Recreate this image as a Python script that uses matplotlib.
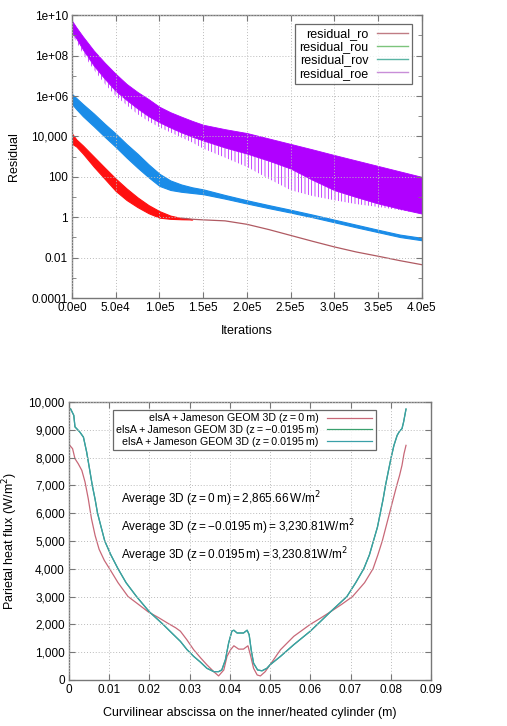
import numpy as np
import matplotlib.pyplot as plt
from matplotlib.lines import Line2D
from matplotlib.ticker import FixedLocator, FuncFormatter

plt.rcParams['font.family'] = ['Liberation Sans', 'DejaVu Sans']
plt.rcParams['hatch.linewidth'] = 0.5

# ---- residual history (log10 of residual, band envelopes) ----
iters = [0, 5e3, 1.25e4, 2.5e4, 3.75e4, 5e4, 6.25e4, 7.5e4, 8.75e4, 1e5,
         1.125e5, 1.25e5, 1.375e5, 1.5e5, 1.75e5, 2e5, 2.25e5, 2.5e5, 2.75e5,
         3e5, 3.25e5, 3.5e5, 3.75e5, 4e5]
ro_hi = [4.14, 3.85, 3.55, 3.0, 2.45, 1.91, 1.42, 0.98, 0.6, 0.3, 0.08, -0.04,
         -0.1, -0.13, -0.18, -0.35, -0.61, -0.9, -1.19, -1.47, -1.72, -1.93,
         -2.15, -2.35]
ro_lo = [3.64, 3.5, 3.15, 2.5, 1.9, 1.3, 0.85, 0.5, 0.2, -0.02, -0.08, -0.1,
         -0.11, -0.13, -0.18, -0.35, -0.61, -0.9, -1.19, -1.47, -1.72, -1.93,
         -2.15, -2.35]
rou_hi = [6.1, 5.9, 5.6, 5.13, 4.62, 4.14, 3.62, 3.14, 2.62, 2.15, 1.82, 1.62,
          1.48, 1.38, 1.1, 0.84, 0.6, 0.37, 0.13, -0.12, -0.37, -0.62, -0.86,
          -1.02]
rou_lo = [5.6, 5.35, 5.0, 4.5, 3.98, 3.48, 2.95, 2.45, 1.98, 1.55, 1.35, 1.26,
          1.2, 1.14, 0.92, 0.68, 0.45, 0.23, 0.0, -0.25, -0.5, -0.74, -0.98,
          -1.14]
roe_hi = [9.73, 9.4, 8.95, 8.25, 7.65, 7.1, 6.6, 6.2, 5.85, 5.47, 5.2, 4.98,
          4.77, 4.58, 4.36, 4.17, 3.9, 3.63, 3.36, 3.08, 2.81, 2.54, 2.27, 2.0]
roe_lo = [9.15, 8.85, 8.3, 7.5, 6.85, 6.25, 5.8, 5.38, 5.0, 4.7, 4.44, 4.2,
          3.99, 3.8, 3.45, 3.15, 2.8, 2.41, 1.85, 1.34, 1.0, 0.68, 0.42, 0.18]
roe_spike = [9.0, 8.7, 8.1, 7.3, 6.6, 6.0, 5.55, 5.1, 4.75, 4.45, 4.2, 3.95,
             3.7, 3.4, 2.95, 2.49, 1.9, 1.34, 1.05, 0.84, 0.65, 0.51, 0.35, 0.18]

res_ticks = [1e-4, 1e-2, 1, 1e2, 1e4, 1e6, 1e8, 1e10]
res_labels = ['0.0001', '0.01', '1', '100', '10,000', '1e+06', '1e+08', '1e+10']
it_ticks = [0, 5e4, 1e5, 1.5e5, 2e5, 2.5e5, 3e5, 3.5e5, 4e5]
it_labels = ['0.0e0', '5.0e4', '1.0e5', '1.5e5', '2.0e5', '2.5e5', '3.0e5', '3.5e5', '4.0e5']

# ---- parietal heat flux ----
z0_x = [0.0002, 0.0009, 0.0015, 0.0023, 0.0032, 0.004, 0.0048, 0.0056, 0.0065,
        0.0075, 0.0088, 0.0101, 0.0122, 0.0147, 0.017, 0.0197, 0.0222, 0.0247,
        0.0265, 0.0277, 0.0293, 0.031, 0.0327, 0.0343, 0.036, 0.0372, 0.0385,
        0.0393, 0.0402, 0.041, 0.0422, 0.0434, 0.0445, 0.0452, 0.0459, 0.0468,
        0.0476, 0.0488, 0.05, 0.0526, 0.0559, 0.06, 0.0625, 0.065, 0.0678,
        0.0705, 0.0735, 0.0756, 0.0768, 0.0779, 0.0788, 0.0797, 0.0806, 0.0815,
        0.0822, 0.0828, 0.0833, 0.0838]
z0_y = [8440, 8320, 7960, 7780, 7540, 7120, 6520, 5800, 5200, 4700, 4300, 4000,
        3500, 3000, 2750, 2450, 2250, 2030, 1880, 1755, 1450, 1090, 800, 545,
        300, 145, 360, 850, 1090, 1230, 1110, 1110, 1230, 850, 420, 180, 145,
        300, 545, 1090, 1570, 2000, 2220, 2450, 2720, 3000, 3500, 4000, 4500,
        5000, 5500, 6000, 6500, 7000, 7360, 7720, 8140, 8440]
zm_x = [0.0004, 0.0012, 0.0015, 0.0027, 0.0036, 0.0044, 0.0051, 0.0058, 0.0065,
        0.0071, 0.008, 0.0089, 0.0104, 0.0122, 0.0142, 0.0168, 0.02, 0.0234,
        0.0255, 0.0277, 0.0293, 0.031, 0.0327, 0.0343, 0.036, 0.0372, 0.038,
        0.0389, 0.0397, 0.0405, 0.041, 0.0418, 0.0434, 0.0443, 0.0448, 0.0453,
        0.0459, 0.0469, 0.048, 0.0492, 0.05, 0.0526, 0.0559, 0.06, 0.0625,
        0.065, 0.0691, 0.0713, 0.0733, 0.0747, 0.0757, 0.0767, 0.0774, 0.0781,
        0.0787, 0.0794, 0.0801, 0.0808, 0.0816, 0.0822, 0.0828, 0.0832, 0.0838]
zm_y = [9760, 9520, 9100, 8920, 8740, 8200, 7600, 7000, 6500, 6000, 5500, 5000,
        4500, 4000, 3500, 3000, 2450, 2000, 1700, 1390, 1100, 850, 640, 420,
        300, 300, 360, 725, 1330, 1755, 1790, 1690, 1690, 1790, 1630, 1090, 605,
        360, 330, 420, 545, 850, 1270, 1755, 2100, 2450, 3000, 3500, 4000, 4500,
        5000, 5500, 6000, 6500, 7000, 7500, 8000, 8440, 8800, 8950, 9040, 9280,
        9740]
zp_x = zm_x
zp_y = [9750, 9520, 9110, 8920, 8730, 8200, 7610, 7000, 6500, 6010, 5500, 5000,
        4510, 4000, 3500, 3000, 2450, 2000, 1700, 1390, 1100, 850, 640, 420,
        300, 300, 360, 730, 1330, 1760, 1790, 1690, 1690, 1790, 1630, 1090, 600,
        360, 330, 420, 545, 850, 1270, 1755, 2100, 2450, 3000, 3500, 4000, 4500,
        5000, 5500, 6000, 6500, 7000, 7510, 8000, 8440, 8800, 8950, 9040, 9280,
        9750]
averages = ['Average 3D (z\u2009=\u20090\u2009m)\u2009=\u20092,865.66\u2009W/m$^2$',
            'Average 3D (z\u2009=\u2009\u22120.0195\u2009m)\u2009=\u20093,230.81W/m$^2$',
            'Average 3D (z\u2009=\u20090.0195\u2009m)\u2009=\u20093,230.81W/m$^2$']

fig = plt.figure(figsize=(5.07, 7.26), dpi=100)
spine_col = '#777777'
grid_kw = dict(color='#bbbbbb', linestyle=(0, (1, 2)), linewidth=0.7)

# ---------- top: residuals ----------
ax1 = fig.add_axes([0.142, 0.5895, 0.690, 0.3895])
x = np.array(iters)
p = lambda v: 10 ** np.array(v)
ax1.fill_between(x, p(roe_spike), p(roe_lo), facecolor='none', edgecolor='#b000ff',
                 hatch='|||||', linewidth=0)
ax1.fill_between(x, p(roe_lo), p(roe_hi), color='#b000ff', linewidth=0.6,
                 edgecolor='#b000ff')
ax1.fill_between(x, p(rou_lo), p(rou_hi), color='#1a8ce8', linewidth=0.8,
                 edgecolor='#1a8ce8')
band = x <= 1.375e5
ax1.fill_between(x[band], p(ro_lo)[band], p(ro_hi)[band], color='#ff1010',
                 linewidth=0.8, edgecolor='#ff1010')
tail = x >= 1.25e5
ax1.plot(x[tail], p(np.array(ro_hi)[tail]), color='#b05a62', linewidth=0.9)
ax1.set_yscale('log')
ax1.set_ylim(1e-4, 1e10)
ax1.set_xlim(0, 4e5)
ax1.yaxis.set_major_locator(FixedLocator(res_ticks))
ax1.yaxis.set_major_formatter(FuncFormatter(lambda v, pos: res_labels[res_ticks.index(v)] if v in res_ticks else ''))
ax1.yaxis.set_minor_locator(FixedLocator([10.0 ** k for k in range(-3, 10, 2)]))
ax1.yaxis.set_minor_formatter(FuncFormatter(lambda v, pos: ''))
ax1.set_xticks(it_ticks)
ax1.set_xticklabels(it_labels)
ax1.grid(True, which='major', **grid_kw)
ax1.set_xlabel('Iterations', fontsize=9, labelpad=8)
ax1.set_ylabel('Residual', fontsize=9, labelpad=8)
handles = [Line2D([], [], color='#c07c84', lw=1.0),
           Line2D([], [], color='#7cc47c', lw=1.0),
           Line2D([], [], color='#5ab4a4', lw=1.0),
           Line2D([], [], color='#c88ed8', lw=1.0)]
leg = ax1.legend(handles, ['residual_ro', 'residual_rou', 'residual_rov', 'residual_roe'],
                 loc='upper right', bbox_to_anchor=(0.99, 0.99), markerfirst=False,
                 fontsize=9, frameon=True, fancybox=False, handlelength=2.5,
                 borderpad=0.3, labelspacing=0.1, handletextpad=0.7,
                 alignment='right')
leg.get_frame().set_edgecolor('#444444')
leg.get_frame().set_linewidth(0.9)
for t in leg.get_texts():
    t.set_ha('right')

# ---------- bottom: heat flux ----------
ax2 = fig.add_axes([0.136, 0.0634, 0.714, 0.3829])
ax2.plot(z0_x, z0_y, color='#c86878', linewidth=0.9, label='elsA\u2009+\u2009Jameson GEOM 3D (z\u2009=\u20090\u2009m)')
ax2.plot(zm_x, zm_y, color='#3aa06e', linewidth=0.9, label='elsA\u2009+\u2009Jameson GEOM 3D (z\u2009=\u2009\u22120.0195\u2009m)')
ax2.plot(zp_x, zp_y, color='#3aa0a8', linewidth=0.9, label='elsA\u2009+\u2009Jameson GEOM 3D (z\u2009=\u20090.0195\u2009m)')
ax2.set_xlim(0, 0.09)
ax2.set_ylim(0, 10000)
ax2.set_xticks(np.arange(0, 0.091, 0.01))
ax2.set_xticklabels(['0', '0.01', '0.02', '0.03', '0.04', '0.05', '0.06', '0.07', '0.08', '0.09'])
ax2.set_yticks(np.arange(0, 10001, 1000))
ax2.yaxis.set_major_formatter(FuncFormatter(lambda v, pos: f'{int(v):,}'))
ax2.grid(True, **grid_kw)
ax2.set_xlabel('Curvilinear abscissa on the inner/heated cylinder (m)', fontsize=9, labelpad=8)
ax2.set_ylabel('Parietal heat flux (W/m$^2$)', fontsize=9, labelpad=6)
leg2 = ax2.legend(loc='upper left', bbox_to_anchor=(0.107, 0.99), markerfirst=False,
                  fontsize=7.7, frameon=True, fancybox=False, handlelength=4.2,
                  borderpad=0.3, labelspacing=0.15, handletextpad=0.8,
                  alignment='right')
leg2.get_frame().set_edgecolor('#444444')
leg2.get_frame().set_linewidth(0.9)
for t in leg2.get_texts():
    t.set_ha('right')
for i, s in enumerate(averages):
    ax2.text(0.0129, 6500 - i * 1000, s, fontsize=8.5, va='center', ha='left')

for ax in (ax1, ax2):
    for sp in ax.spines.values():
        sp.set_color(spine_col)
        sp.set_linewidth(1.0)
    ax.tick_params(which='both', direction='in', top=True, right=True,
                   color=spine_col, labelsize=8.5, length=4, pad=3)
    ax.tick_params(which='minor', length=3)
    ax.set_axisbelow(False)

fig.savefig('out.png', dpi=100)
